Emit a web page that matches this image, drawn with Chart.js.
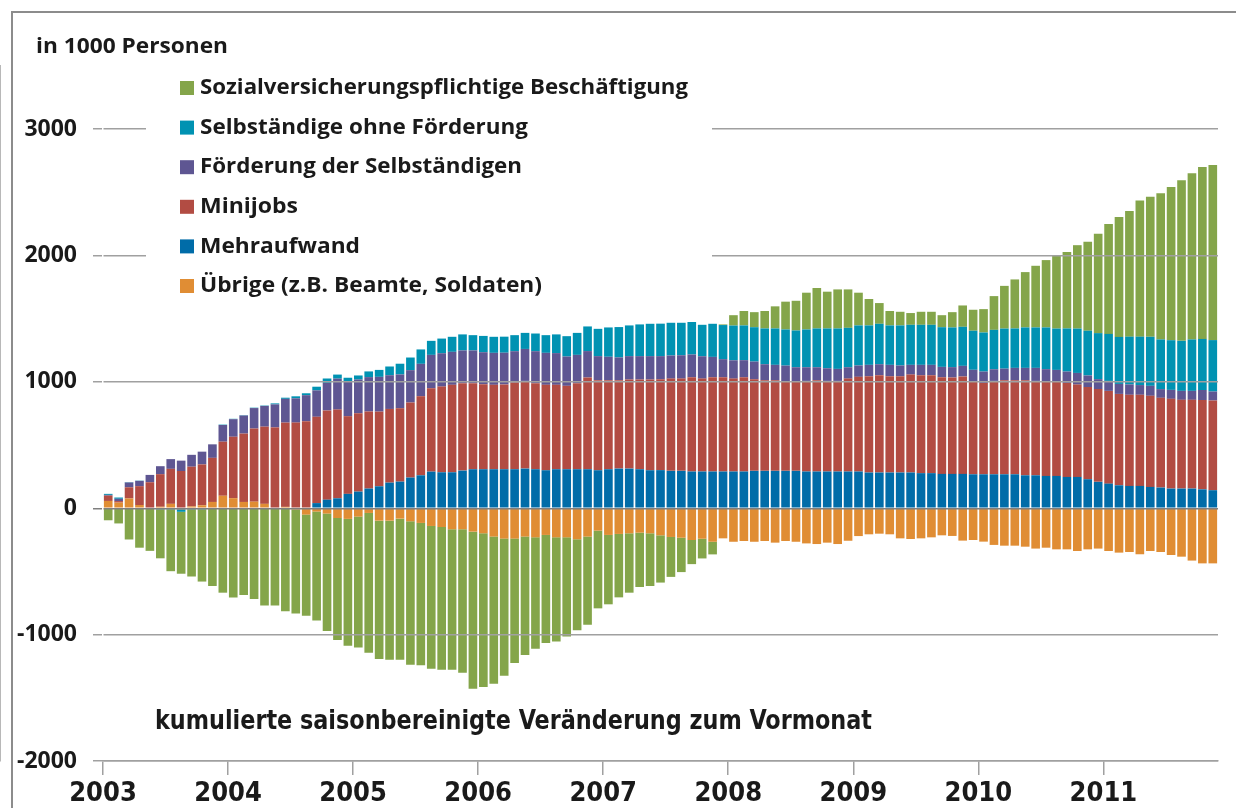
<!DOCTYPE html>
<html lang="de">
<head>
<meta charset="utf-8">
<title>Beschäftigung – kumulierte Veränderung</title>
<script src="https://cdn.jsdelivr.net/npm/chart.js@4.4.0/dist/chart.umd.min.js"></script>
<style>
  html, body { margin: 0; padding: 0; background: #fff; }
  #wrap { width: 1236px; height: 808px; }
</style>
</head>
<body>
<div id="wrap"><canvas id="chart" width="1236" height="808"></canvas></div>
<script>
// Monthly values, Jan 2003 - Nov 2011, in 1000 persons
const yearLabels = ['2003', '2004', '2005', '2006', '2007', '2008', '2009', '2010', '2011'];
const yTickValues = [-2000, -1000, 0, 1000, 2000, 3000];
const monthCount = 107;

const uebrige = [58, 45, 78, 26, 0, 12, 35, -8, 15, 24,
  50, 99, 80, 50, 52, 35, 0, 11, -10, -50,
  -26, -42, -77, -84, -66, -37, -98, -98, -82, -103,
  -116, -140, -148, -166, -166, -185, -198, -224, -240, -240,
  -224, -230, -211, -230, -230, -245, -224, -177, -211, -203,
  -198, -193, -198, -214, -227, -233, -251, -241, -265, -238,
  -265, -259, -265, -259, -272, -259, -265, -278, -283, -272,
  -283, -257, -220, -206, -201, -206, -238, -243, -238, -230,
  -214, -219, -256, -251, -264, -290, -296, -296, -304, -319,
  -312, -325, -325, -338, -325, -319, -338, -351, -346, -364,
  -338, -346, -370, -383, -414, -436, -436];

const mehraufwand = [0, 0, 0, 0, 0, 0, 0, 0, 0, 0,
  0, 0, 0, 0, 0, 0, 0, 0, 0, 0,
  41, 68, 79, 114, 132, 156, 174, 203, 211, 243,
  261, 290, 285, 285, 298, 309, 309, 309, 309, 309,
  314, 309, 301, 309, 309, 309, 309, 301, 309, 314,
  314, 309, 301, 302, 296, 296, 291, 291, 291, 291,
  291, 291, 296, 296, 296, 296, 296, 291, 291, 291,
  291, 291, 291, 283, 283, 283, 283, 283, 278, 278,
  272, 272, 272, 269, 269, 269, 269, 269, 261, 261,
  256, 256, 248, 248, 230, 209, 195, 182, 177, 177,
  169, 164, 156, 156, 156, 150, 143];

const minijobs = [42, 12, 88, 149, 206, 258, 277, 295, 314, 323,
  349, 428, 486, 541, 579, 611, 640, 667, 678, 689,
  683, 706, 702, 615, 620, 610, 591, 583, 581, 594,
  626, 660, 678, 692, 692, 681, 673, 668, 671, 686,
  694, 681, 676, 668, 660, 681, 726, 713, 705, 700,
  705, 710, 718, 719, 730, 730, 746, 735, 746, 746,
  735, 746, 725, 717, 717, 711, 706, 717, 722, 717,
  717, 735, 749, 762, 770, 762, 762, 775, 775, 775,
  765, 763, 771, 732, 723, 739, 744, 744, 752, 747,
  750, 744, 744, 731, 729, 734, 734, 723, 721, 721,
  721, 710, 710, 702, 702, 707, 710];

const foerderung = [6, 18, 38, 42, 58, 63, 77, 82, 94, 101,
  107, 132, 139, 143, 162, 164, 182, 188, 192, 206,
  209, 218, 245, 275, 267, 272, 275, 267, 267, 256,
  256, 264, 264, 261, 259, 259, 253, 253, 251, 248,
  253, 253, 253, 251, 232, 224, 209, 190, 185, 180,
  185, 185, 185, 183, 183, 185, 180, 177, 161, 143,
  145, 135, 140, 127, 122, 122, 114, 108, 103, 100,
  95, 90, 90, 90, 87, 90, 85, 77, 82, 82,
  82, 82, 84, 95, 90, 92, 92, 98, 98, 103,
  95, 95, 90, 92, 92, 79, 79, 79, 82, 77,
  79, 69, 71, 71, 71, 79, 71];

const selbstaendige = [8, 10, 3, 2, -5, -8, -8, -20, -8, -8,
  0, 3, 3, 3, 3, 3, 8, 9, 16, 15,
  29, 35, 32, 29, 32, 45, 55, 69, 85, 100,
  114, 111, 116, 119, 127, 121, 129, 127, 127, 127,
  127, 140, 140, 148, 161, 174, 195, 216, 232, 240,
  243, 251, 256, 257, 259, 257, 257, 249, 262, 270,
  275, 275, 272, 283, 288, 286, 291, 299, 307, 315,
  320, 312, 317, 312, 320, 312, 317, 317, 317, 317,
  314, 314, 309, 309, 309, 312, 317, 312, 320, 320,
  330, 327, 341, 351, 354, 364, 372, 372, 378, 383,
  388, 393, 393, 396, 407, 404, 407];

const svBeschaeftigung = [-95, -120, -247, -312, -332, -388, -490, -490, -532, -572,
  -615, -668, -706, -686, -718, -770, -770, -815, -822, -800,
  -862, -930, -966, -1004, -1036, -1106, -1095, -1100, -1117, -1135,
  -1127, -1130, -1130, -1111, -1135, -1243, -1217, -1164, -1085, -985,
  -937, -882, -855, -824, -784, -721, -697, -615, -549, -502,
  -470, -430, -417, -374, -316, -272, -191, -156, -100, 5,
  82, 114, 119, 138, 175, 220, 235, 291, 320, 291,
  309, 304, 259, 209, 164, 114, 108, 93, 103, 103,
  95, 121, 169, 166, 185, 267, 338, 388, 438, 488,
  533, 578, 605, 660, 705, 787, 869, 950, 995, 1077,
  1109, 1156, 1212, 1270, 1315, 1360, 1386];

// series names and colors (legend order top to bottom)
const seriesNames = [
  'Sozialversicherungspflichtige Beschäftigung',
  'Selbständige ohne Förderung',
  'Förderung der Selbständigen',
  'Minijobs',
  'Mehraufwand',
  'Übrige (z.B. Beamte, Soldaten)'
];
const seriesColors = ['#84a54a', '#0092b2', '#5e5692', '#b24c43', '#006ca8', '#e08d34'];

// build month labels
const monthLabels = [];
for (let i = 0; i < monthCount; i++) {
  const y = 2003 + Math.floor(i / 12);
  const m = (i % 12) + 1;
  monthLabels.push(y + '-' + (m < 10 ? '0' + m : m));
}

const textColor = '#1a1a1a';
const gridColor = '#a0a0a0';
const mainFont = "'Open Sans', 'DejaVu Sans', sans-serif";
const narrowFont = "'Liberation Sans Narrow', 'DejaVu Sans Condensed', 'Liberation Sans', sans-serif";

// draw text squeezed/stretched to a given width
function fitText(ctx, text, x, y, width, font) {
  ctx.save();
  ctx.font = font;
  const w = ctx.measureText(text).width;
  ctx.translate(x, y);
  ctx.scale(width / w, 1);
  ctx.fillText(text, 0, 0);
  ctx.restore();
}

const decorPlugin = {
  id: 'decor',
  beforeDraw(chart) {
    const ctx = chart.ctx;
    ctx.save();
    ctx.fillStyle = '#ffffff';
    ctx.fillRect(0, 0, chart.width, chart.height);
    ctx.restore();
  },
  afterDraw(chart) {
    const ctx = chart.ctx;
    ctx.save();
    // outer frame
    ctx.strokeStyle = '#8c8c8c';
    ctx.lineWidth = 2;
    ctx.beginPath();
    ctx.moveTo(12, 808);
    ctx.lineTo(12, 12);
    ctx.lineTo(1236, 12);
    ctx.stroke();

    ctx.fillStyle = textColor;
    ctx.textBaseline = 'middle';
    ctx.textAlign = 'left';
    fitText(ctx, 'in 1000 Personen', 36, 47, 192, 'bold 21px ' + mainFont);

    // legend box (hides the gridlines behind it)
    ctx.fillStyle = '#ffffff';
    ctx.fillRect(146, 66, 566, 236);
    const widths = [488, 328, 322, 98, 160, 342];
    seriesNames.forEach((name, i) => {
      const cy = 88 + i * 39.6;
      ctx.fillStyle = seriesColors[i];
      ctx.fillRect(180, cy - 7, 14, 14);
      ctx.fillStyle = textColor;
      fitText(ctx, name, 200, cy, widths[i], 'bold 22px ' + mainFont);
    });

    fitText(ctx, 'kumulierte saisonbereinigte Veränderung zum Vormonat', 155, 722, 717,
      'bold 27px ' + narrowFont);
    ctx.restore();
  }
};

const datasets = [
  { label: seriesNames[5], data: uebrige, backgroundColor: seriesColors[5] },
  { label: seriesNames[4], data: mehraufwand, backgroundColor: seriesColors[4] },
  { label: seriesNames[3], data: minijobs, backgroundColor: seriesColors[3] },
  { label: seriesNames[2], data: foerderung, backgroundColor: seriesColors[2] },
  { label: seriesNames[1], data: selbstaendige, backgroundColor: seriesColors[1] },
  { label: seriesNames[0], data: svBeschaeftigung, backgroundColor: seriesColors[0] }
].map(d => Object.assign(d, {
  stack: 'all',
  borderWidth: 0,
  barPercentage: 0.83,
  categoryPercentage: 1.0
}));

new Chart(document.getElementById('chart'), {
  type: 'bar',
  data: { labels: monthLabels, datasets: datasets },
  options: {
    responsive: false,
    animation: false,
    devicePixelRatio: 1,
    layout: { padding: { top: 66, right: 18, bottom: 0, left: 0 } },
    plugins: {
      legend: { display: false },
      tooltip: { enabled: false }
    },
    scales: {
      x: {
        stacked: true,
        offset: true,
        afterFit: (scale) => { scale.height = 47; },
        grid: {
          offset: true,
          drawOnChartArea: false,
          drawTicks: true,
          tickLength: 14,
          lineWidth: 1.5,
          color: (c) => (c.index % 12 === 0 ? gridColor : 'rgba(0,0,0,0)')
        },
        border: { display: true, color: gridColor, width: 1.5 },
        ticks: {
          autoSkip: false,
          maxRotation: 0,
          minRotation: 0,
          padding: 3,
          labelOffset: -5.2,
          color: textColor,
          font: { family: narrowFont, size: 27, weight: 'bold' },
          callback: (v, i) => (i % 12 === 0 ? yearLabels[i / 12] : '')
        }
      },
      y: {
        stacked: true,
        min: -2000,
        max: 3500,
        afterFit: (scale) => { scale.width = 103; },
        afterBuildTicks: (scale) => {
          scale.ticks = yTickValues.map(v => ({ value: v }));
        },
        grid: {
          z: 1,
          color: (c) => (c.tick && c.tick.value === 0 ? '#7f7f7f' : gridColor),
          lineWidth: 1.5,
          tickLength: 10
        },
        border: { display: true, color: gridColor, width: 1.5 },
        ticks: {
          autoSkip: false,
          padding: 16,
          color: textColor,
          font: { family: mainFont, size: 23, weight: 'bold' },
          callback: (v) => String(v)
        }
      }
    }
  },
  plugins: [decorPlugin]
});
</script>
</body>
</html>
